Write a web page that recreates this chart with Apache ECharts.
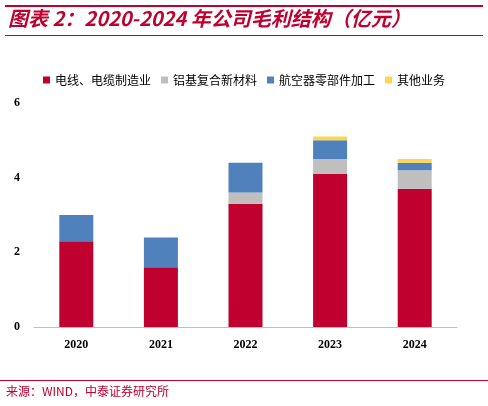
<!DOCTYPE html>
<html><head><meta charset="utf-8">
<script src="https://cdn.jsdelivr.net/npm/echarts@6/dist/echarts.min.js"></script>
<style>body{margin:0;background:#fff}#c{width:488px;height:406px}</style>
</head><body><div id="c"></div>
<script>
var years = ['2020', '2021', '2022', '2023', '2024'];
var names = ['电线、电缆制造业', '铝基复合新材料', '航空器零部件加工', '其他业务'];
var wire = [2.3, 1.6, 3.3, 4.1, 3.7];
var alu = [0, 0, 0.3, 0.4, 0.5];
var aero = [0.7, 0.8, 0.8, 0.5, 0.2];
var other = [0, 0, 0, 0.1, 0.1];
var yTicks = [0, 2, 4, 6];
var colors = ['#C0002F', '#BFBFBF', '#4F81BD', '#FFD54F'];
var chart = echarts.init(document.getElementById('c'));
var cjk = '"Noto Sans CJK SC", sans-serif';
chart.setOption({
    animation: false,
    color: colors,
    graphic: [
        {type: 'rect', shape: {x: 5, y: 5, width: 478, height: 2}, style: {fill: '#C0002F'}},
        {type: 'text', left: 8, top: 8, style: {text: '图表 2：2020-2024 年公司毛利结构（亿元）', fill: '#C0002F', font: 'italic bold 20px ' + cjk}},
        {type: 'rect', shape: {x: 5, y: 35, width: 478, height: 1}, style: {fill: '#C0002F'}},
        {type: 'rect', shape: {x: 0, y: 380, width: 488, height: 1}, style: {fill: '#C0002F'}},
        {type: 'text', left: 6, top: 385, style: {text: '来源：WIND，中泰证券研究所', fill: '#C0002F', font: '12px ' + cjk}}
    ],
    legend: {
        top: 69, left: 'center', itemWidth: 7, itemHeight: 7, itemGap: 10,
        textStyle: {fontFamily: cjk, fontSize: 12, color: '#000'},
        data: names.map(function (n) { return {name: n, icon: 'rect'}; })
    },
    grid: {left: 34, right: 31, top: 103, bottom: 79},
    xAxis: {
        type: 'category', data: years,
        axisLine: {lineStyle: {color: '#BFBFBF'}}, axisTick: {show: false},
        axisLabel: {color: '#000', fontFamily: 'Liberation Serif', fontWeight: 'bold', fontSize: 12, margin: 12}
    },
    yAxis: {
        type: 'value', min: yTicks[0], max: yTicks[yTicks.length - 1], interval: 2,
        splitLine: {show: false}, axisLine: {show: false}, axisTick: {show: false},
        axisLabel: {color: '#000', fontFamily: 'Liberation Serif', fontWeight: 'bold', fontSize: 12, margin: 14}
    },
    series: [wire, alu, aero, other].map(function (d, i) {
        return {name: names[i], type: 'bar', stack: 'a', data: d, barWidth: 34};
    })
});
</script></body></html>
